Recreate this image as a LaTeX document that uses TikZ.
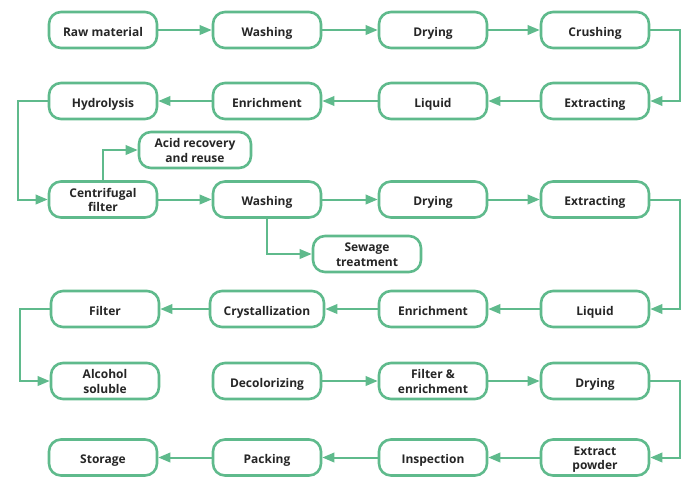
\documentclass[tikz,border=0pt]{standalone}
\usepackage{fontspec}
\setmainfont{Open Sans}
\usetikzlibrary{arrows.meta}
\definecolor{grn}{RGB}{95,186,140}
\tikzset{
  boxbase/.style={draw=grn, line width=2.6pt, rounded corners=12pt, fill=white,
    minimum width=108pt, minimum height=36pt, inner sep=2pt, align=center,
    font=\fontsize{12}{14.5}\selectfont\bfseries, text=black!85},
  box/.style={boxbase, text height=15pt, text depth=3pt},
  box2/.style={boxbase, text height=27pt, text depth=3pt},
  conn/.style={draw=grn, line width=2pt, -{Triangle[length=12pt,width=9.5pt]}},
}
\begin{document}
\begin{tikzpicture}[x=1pt,y=-1pt]
\useasboundingbox (0,0) rectangle (700,491);
% row 1
\node[box] (r1a) at (103,30) {Raw material};
\node[box] (r1b) at (267,30) {Washing};
\node[box] (r1c) at (433,30) {Drying};
\node[box] (r1d) at (595,30) {Crushing};
% row 2
\node[box] (r2a) at (103,101) {Hydrolysis};
\node[box] (r2b) at (267,101) {Enrichment};
\node[box] (r2c) at (433,101) {Liquid};
\node[box] (r2d) at (595,101) {Extracting};
% side boxes
\node[box2, minimum width=112pt] (acid) at (195,150) {Acid recovery\\and reuse};
\node[box2] (sew) at (367,254) {Sewage\\treatment};
% row 3
\node[box2] (r3a) at (103,199.5) {Centrifugal\\filter};
\node[box] (r3b) at (267,199.5) {Washing};
\node[box] (r3c) at (433,199.5) {Drying};
\node[box] (r3d) at (595,199.5) {Extracting};
% row 4
\node[box] (r4a) at (105,309) {Filter};
\node[box, minimum width=114pt] (r4b) at (267,309) {Crystallization};
\node[box] (r4c) at (433,309) {Enrichment};
\node[box] (r4d) at (595,309) {Liquid};
% row 5
\node[box2] (r5a) at (105,381) {Alcohol\\soluble};
\node[box] (r5b) at (267,381) {Decolorizing};
\node[box2] (r5c) at (433,381) {Filter \&\\enrichment};
\node[box] (r5d) at (595,381) {Drying};
% row 6
\node[box] (r6a) at (103,457.5) {Storage};
\node[box] (r6b) at (267,457.5) {Packing};
\node[box] (r6c) at (433,457.5) {Inspection};
\node[box2] (r6d) at (595,457.5) {Extract\\powder};
% connectors
\draw[conn] (r1a) -- (r1b);
\draw[conn] (r1b) -- (r1c);
\draw[conn] (r1c) -- (r1d);
\draw[conn] (r1d.east) -- ++(30,0) |- (r2d.east);
\draw[conn] (r2d) -- (r2c);
\draw[conn] (r2c) -- (r2b);
\draw[conn] (r2b) -- (r2a);
\draw[conn] (r2a.west) -- ++(-30,0) |- (r3a.west);
\draw[conn] (r3a.north) |- (acid.west);
\draw[conn] (r3a) -- (r3b);
\draw[conn] (r3b) -- (r3c);
\draw[conn] (r3b.south) |- (sew.west);
\draw[conn] (r3c) -- (r3d);
\draw[conn] (r3d.east) -- ++(30,0) |- (r4d.east);
\draw[conn] (r4d) -- (r4c);
\draw[conn] (r4c) -- (r4b);
\draw[conn] (r4b) -- (r4a);
\draw[conn] (r4a.west) -- ++(-30,0) |- (r5a.west);
\draw[conn] (r5b) -- (r5c);
\draw[conn] (r5c) -- (r5d);
\draw[conn] (r5d.east) -- ++(30,0) |- (r6d.east);
\draw[conn] (r6d) -- (r6c);
\draw[conn] (r6c) -- (r6b);
\draw[conn] (r6b) -- (r6a);
\end{tikzpicture}
\end{document}
